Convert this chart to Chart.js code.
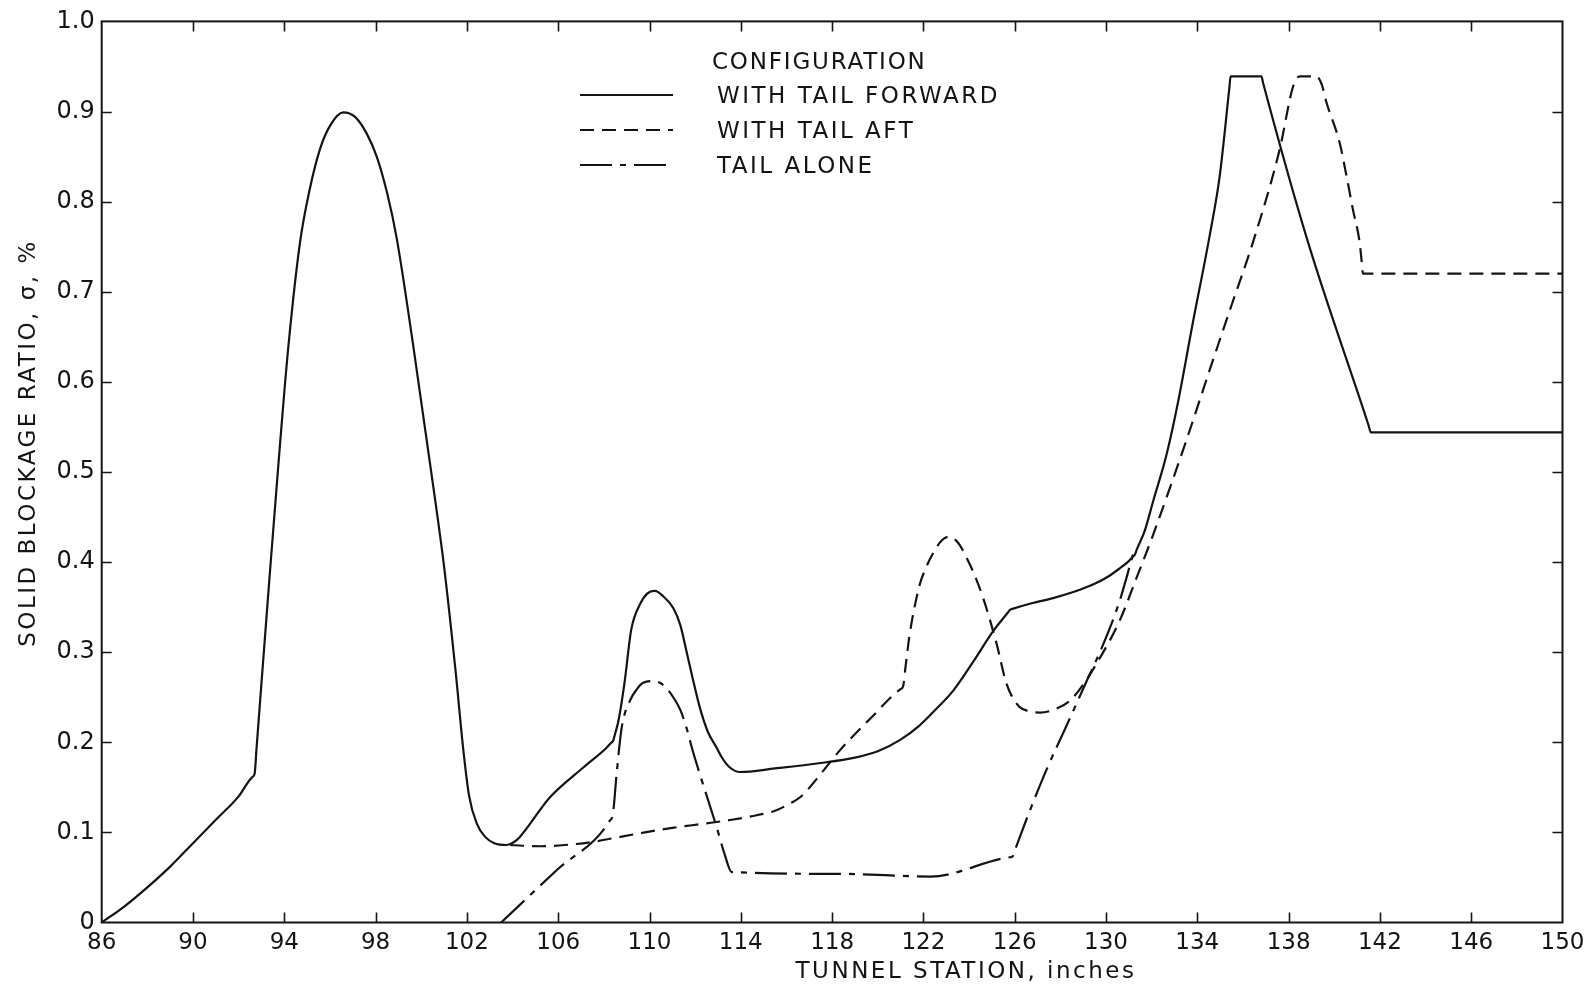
<!DOCTYPE html>
<html>
<head>
<meta charset="utf-8">
<script src="https://cdn.jsdelivr.net/npm/chart.js@4.4.1/dist/chart.umd.min.js"></script>
<style>
  html, body { margin: 0; padding: 0; background: #ffffff; }
  #wrap { width: 1596px; height: 988px; position: relative; }
  canvas { display: block; }
</style>
</head>
<body>
<div id="wrap"><canvas id="c" width="1596" height="988"></canvas></div>
<script>
// ---- data ----
const xTicks = [86, 90, 94, 98, 102, 106, 110, 114, 118, 122, 126, 130, 134, 138, 142, 146, 150];
const yTicks = [0, 0.1, 0.2, 0.3, 0.4, 0.5, 0.6, 0.7, 0.8, 0.9, 1.0];
const yTickLabels = ['0', '0.1', '0.2', '0.3', '0.4', '0.5', '0.6', '0.7', '0.8', '0.9', '1.0'];

const seriesNames = ['WITH TAIL FORWARD', 'WITH TAIL AFT', 'TAIL ALONE'];

// WITH TAIL FORWARD (solid)
const fwdX = [86, 87, 88, 89, 90, 91, 92, 92.6, 92.7, 92.78, 93.34, 93.74, 94.17, 94.69, 95.1, 95.56, 96.0, 96.58, 97.1, 97.6, 98.05, 98.5, 98.92, 99.65, 100.38, 101.0, 101.5, 101.85, 102.1, 102.43, 102.8, 103.2, 103.74, 104.05, 104.32, 105.64, 107.1, 108.12, 108.3, 108.41, 108.5, 108.65, 108.9, 109.2, 109.58, 109.9, 110.24, 110.6, 111.04, 111.35, 111.62, 111.9, 112.2, 112.55, 112.94, 113.2, 113.52, 113.96, 115.5, 117.5, 119.0, 120.0, 121.0, 121.8, 122.6, 123.3, 124.2, 125.05, 125.7, 125.79, 125.9, 126.7, 127.68, 128.6, 129.43, 130.1, 130.6, 131.0, 131.18, 131.26, 131.35, 131.7, 132.06, 132.65, 133.16, 133.8, 134.54, 134.98, 135.4, 135.46, 136.81, 136.88, 138.85, 141.5, 141.6, 150];
const fwdY = [0, 0.018, 0.039, 0.062, 0.088, 0.114, 0.14, 0.1614, 0.165, 0.192, 0.379, 0.508, 0.637, 0.755, 0.812, 0.858, 0.884, 0.899, 0.894, 0.876, 0.85, 0.81, 0.76, 0.64, 0.51, 0.395, 0.28, 0.19, 0.14, 0.110, 0.095, 0.088, 0.086, 0.089, 0.095, 0.139, 0.172, 0.194, 0.199, 0.202, 0.210, 0.225, 0.265, 0.325, 0.353, 0.365, 0.368, 0.362, 0.349, 0.330, 0.301, 0.270, 0.239, 0.212, 0.194, 0.182, 0.172, 0.167, 0.171, 0.177, 0.183, 0.190, 0.203, 0.218, 0.238, 0.257, 0.290, 0.323, 0.344, 0.347, 0.348, 0.354, 0.360, 0.367, 0.375, 0.384, 0.393, 0.401, 0.406, 0.408, 0.414, 0.435, 0.467, 0.519, 0.578, 0.665, 0.762, 0.828, 0.925, 0.939, 0.939, 0.932, 0.755, 0.552, 0.544, 0.544];

// WITH TAIL AFT (dashed)
const aftX = [103.89, 105.2, 106.3, 107.39, 108.5, 109.58, 111.0, 112.5, 113.6, 114.69, 115.5, 116.15, 116.6, 116.88, 117.6, 118.34, 119.7, 121.0, 121.11, 121.2, 121.4, 121.84, 122.1, 122.43, 122.8, 123.1, 123.5, 123.89, 124.25, 124.62, 125.2, 125.64, 125.95, 126.22, 126.7, 127.1, 127.7, 128.41, 129.0, 129.58, 130.6, 131.3, 132.06, 133.52, 134.5, 135.5, 136.44, 137.61, 138.2, 138.49, 139.22, 139.45, 139.66, 140.24, 140.54, 140.82, 141.11, 141.2, 141.26, 150];
const aftY = [0.086, 0.0846, 0.086, 0.089, 0.094, 0.099, 0.105, 0.110, 0.114, 0.119, 0.124, 0.132, 0.139, 0.146, 0.168, 0.191, 0.227, 0.259, 0.262, 0.280, 0.320, 0.375, 0.393, 0.410, 0.424, 0.428, 0.422, 0.405, 0.385, 0.360, 0.310, 0.265, 0.248, 0.239, 0.234, 0.233, 0.236, 0.246, 0.264, 0.287, 0.335, 0.380, 0.430, 0.535, 0.610, 0.685, 0.755, 0.858, 0.928, 0.939, 0.939, 0.930, 0.910, 0.865, 0.828, 0.791, 0.755, 0.734, 0.720, 0.720];

// TAIL ALONE (dash-dot)
const aloneX = [103.5, 105.93, 108.26, 108.4, 108.56, 108.78, 109.14, 109.45, 109.72, 110.16, 110.45, 110.75, 111.04, 111.35, 111.62, 111.9, 112.2, 112.94, 113.3, 113.6, 118.34, 122.3, 125.8, 125.9, 126.0, 126.6, 127.4, 128.3, 129.1, 129.9, 130.6, 131.2];
const aloneY = [0, 0.058, 0.113, 0.121, 0.165, 0.216, 0.246, 0.259, 0.266, 0.268, 0.266, 0.260, 0.250, 0.236, 0.216, 0.190, 0.165, 0.106, 0.075, 0.056, 0.054, 0.051, 0.0724, 0.073, 0.0797, 0.12, 0.17, 0.22, 0.265, 0.31, 0.357, 0.41];

// ---- styling ----
const INK = '#141414';
const FONT = "'DejaVu Sans', 'Liberation Sans', sans-serif";
const DASH_AFT = [14, 8];
const DASH_ALONE = [32, 8, 6, 8];

function pts(xs, ys) { return xs.map((x, i) => ({ x: x, y: ys[i] })); }

const frame = {
  id: 'frame',
  afterDraw(chart) {
    const ctx = chart.ctx;
    const { left, right, top, bottom } = chart.chartArea;
    const xs = chart.scales.x, ys = chart.scales.y;
    ctx.save();
    ctx.strokeStyle = INK;
    ctx.lineWidth = 2;
    ctx.setLineDash([]);
    ctx.strokeRect(left, top, right - left, bottom - top);
    ctx.lineWidth = 1.6;
    ctx.beginPath();
    xTicks.slice(1, -1).forEach(v => {
      const p = Math.round(xs.getPixelForValue(v)) + 0.5;
      ctx.moveTo(p, bottom); ctx.lineTo(p, bottom - 10);
      ctx.moveTo(p, top); ctx.lineTo(p, top + 10);
    });
    yTicks.slice(1, -1).forEach(v => {
      const p = Math.round(ys.getPixelForValue(v)) + 0.5;
      ctx.moveTo(left, p); ctx.lineTo(left + 10, p);
      ctx.moveTo(right, p); ctx.lineTo(right - 10, p);
    });
    ctx.stroke();

    // axis titles
    ctx.fillStyle = INK;
    try { ctx.letterSpacing = '2.5px'; } catch (e) {}
    ctx.font = "23px " + FONT;
    ctx.textAlign = 'center';
    ctx.textBaseline = 'middle';
    ctx.fillText('TUNNEL STATION, inches', 966, 972);
    ctx.save();
    ctx.translate(29, 443);
    ctx.rotate(-Math.PI / 2);
    ctx.font = "23px " + FONT;
    ctx.fillText('SOLID BLOCKAGE RATIO, \u03C3, %', 0, 0);
    ctx.restore();

    // legend
    ctx.font = "23px " + FONT;
    ctx.textAlign = 'left';
    try { ctx.letterSpacing = '1.8px'; } catch (e) {}
    ctx.fillText('CONFIGURATION', 712, 63);
    try { ctx.letterSpacing = '2.5px'; } catch (e) {}
    const rows = [95, 130, 165];
    const dashes = [[], DASH_AFT, DASH_ALONE];
    ctx.lineWidth = 2.2;
    rows.forEach((yy, i) => {
      ctx.setLineDash(dashes[i]);
      ctx.beginPath();
      ctx.moveTo(580, yy); ctx.lineTo(673, yy);
      ctx.stroke();
      ctx.fillText(seriesNames[i], 717, yy + 2);
    });
    try { ctx.letterSpacing = '0px'; } catch (e) {}
    ctx.restore();
  }
};

new Chart(document.getElementById('c'), {
  type: 'line',
  data: {
    datasets: [
      { label: seriesNames[0], data: pts(fwdX, fwdY), borderColor: INK, borderWidth: 2.2, borderDash: [] },
      { label: seriesNames[1], data: pts(aftX, aftY), borderColor: INK, borderWidth: 2.2, borderDash: DASH_AFT },
      { label: seriesNames[2], data: pts(aloneX, aloneY), borderColor: INK, borderWidth: 2.2, borderDash: DASH_ALONE }
    ]
  },
  options: {
    responsive: false,
    animation: false,
    devicePixelRatio: 1,
    layout: { padding: { top: 18, right: 33.5, left: 0, bottom: 0 } },
    plugins: { legend: { display: false }, tooltip: { enabled: false }, title: { display: false } },
    elements: { point: { radius: 0 }, line: { cubicInterpolationMode: 'monotone', fill: false, borderJoinStyle: 'round', borderCapStyle: 'butt' } },
    scales: {
      x: {
        type: 'linear', min: 86, max: 150,
        afterBuildTicks: s => { s.ticks = xTicks.map(v => ({ value: v })); },
        afterFit: s => { s.height = 988 - 922.5; },
        grid: { display: false, drawTicks: false }, border: { display: false },
        ticks: { color: INK, font: { family: FONT, size: 23 }, padding: 7, maxRotation: 0, autoSkip: false,
                 callback: v => String(v) }
      },
      y: {
        type: 'linear', min: 0, max: 1,
        afterBuildTicks: s => { s.ticks = yTicks.map(v => ({ value: v })); },
        afterFit: s => { s.width = 101.7; },
        grid: { display: false, drawTicks: false }, border: { display: false },
        ticks: { color: INK, font: { family: FONT, size: 24 }, padding: 7, autoSkip: false,
                 callback: v => yTickLabels[Math.round(v * 10)] }
      }
    }
  },
  plugins: [frame]
});
</script>
</body>
</html>
